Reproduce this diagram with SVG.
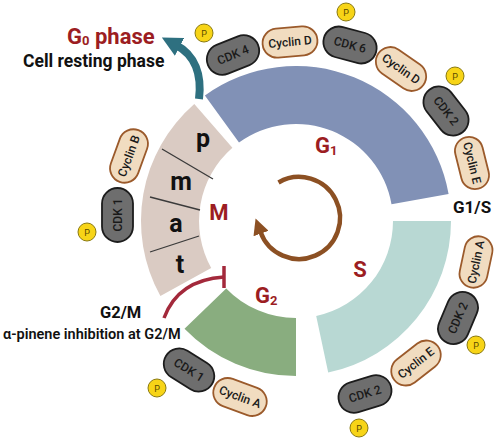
<svg xmlns="http://www.w3.org/2000/svg" width="500" height="441" viewBox="0 0 500 441">
<defs>
<style>
.lbl{font-family:Roboto,"Liberation Sans",sans-serif;font-weight:700}
.ph{fill:#9c1d22;font-size:22px}
.blk{fill:#111}
.cdk rect{fill:#6e6e6e;stroke:#1c1c1c;stroke-width:1.8}
.cyc rect{fill:#f1dcc0;stroke:#9b5a2b;stroke-width:1.8}
.pt{font-family:Roboto,"Liberation Sans",sans-serif;font-weight:500;font-size:12px;fill:#1a1a1a;text-anchor:middle}
.p circle{fill:#f7d417;stroke:#8a7a10;stroke-width:1}
.p text{font-family:Roboto,"Liberation Sans",sans-serif;font-size:9px;fill:#5a4a00;text-anchor:middle}
.mline{stroke:#3a3a3a;stroke-width:1.3}
.lt{font-family:Roboto,"Liberation Sans",sans-serif;font-weight:700;font-size:25px;fill:#111;text-anchor:middle}
</style>
<marker id="ahTeal" viewBox="0 0 10 10" refX="2" refY="5" markerWidth="20" markerHeight="20" markerUnits="userSpaceOnUse" orient="auto">
<path d="M0,0 L10,5 L0,10 z" fill="#2e7080"/>
</marker>
<marker id="ahBrown" viewBox="0 0 10 10" refX="1" refY="5" markerWidth="16" markerHeight="16" markerUnits="userSpaceOnUse" orient="auto">
<path d="M0,0 L10,5 L0,10 z" fill="#8c5023"/>
</marker>
</defs>
<rect width="500" height="441" fill="#ffffff"/>

<g id="G1">
<path d="M 204.9 95.6 A 155 155 0 0 1 448.6 194.1 L 391.5 204.2 A 97 97 0 0 0 239.0 142.5 Z" fill="#8191b6"/>
<text class="lbl ph" x="315" y="153">G<tspan font-size="13" dy="2">1</tspan></text>
</g>
<g id="S">
<path d="M 393 221 L 451 221 A 155 155 0 0 1 328.2 372.6 L 316.2 315.9 A 97 97 0 0 0 393 221 Z" fill="#b8d8d3"/>
<text class="lbl ph" x="360" y="277" text-anchor="middle">S</text>
</g>
<g id="G2">
<path d="M 296 318 L 296 376 A 155 155 0 0 1 184.5 328.7 L 226.2 288.4 A 97 97 0 0 0 296 318 Z" fill="#89ad7f"/>
<text class="lbl ph" x="255" y="303">G<tspan font-size="13" dy="2">2</tspan></text>
</g>
<g id="M">
<path d="M 211.2 268.0 L 160.4 296.1 A 155 155 0 0 1 194.3 104.0 L 232.4 147.8 A 97 97 0 0 0 211.2 268.0 Z" fill="#dacbc3"/>
<line class="mline" x1="162" y1="149" x2="213" y2="179"/>
<line class="mline" x1="150" y1="197" x2="200" y2="210"/>
<line class="mline" x1="150" y1="252" x2="199" y2="236"/>
<text class="lt" x="203" y="147">p</text>
<text class="lt" x="181" y="190">m</text>
<text class="lt" x="176" y="232">a</text>
<text class="lt" x="180" y="273">t</text>
<text class="lbl ph" x="219" y="220" text-anchor="middle">M</text>
</g>

<g id="connectors">
<path d="M 199 99 C 202 75 195 55 176 45" fill="none" stroke="#2e7080" stroke-width="8" marker-end="url(#ahTeal)"/>
<path d="M 278.5 182.5 A 41 41 0 1 1 260.5 232" fill="none" stroke="#8c5023" stroke-width="4.5" marker-end="url(#ahBrown)"/>
<path d="M 164 318 Q 178 280 224 277" fill="none" stroke="#a3293b" stroke-width="3.5"/>
<line x1="224" y1="266" x2="224" y2="288" stroke="#a3293b" stroke-width="3.5"/>
</g>

<g id="G0-label">
<text class="lbl ph" x="67" y="44">G<tspan font-size="13" dy="1">0</tspan><tspan dy="-1"> phase</tspan></text>
<text class="lbl blk" x="23" y="67" font-size="17.5">Cell resting phase</text>
</g>
<g id="G1S-label"><text class="lbl blk" x="453" y="213" font-size="17">G1/S</text></g>
<g id="G2M-label">
<text class="lbl blk" x="100" y="318" font-size="16.5">G2/M</text>
<text class="blk" x="3" y="339" font-family="Roboto,'Liberation Sans',sans-serif" font-weight="600" font-size="14.5">α-pinene inhibition at G2/M</text>
</g>

<g id="cdk4" class="cdk" transform="translate(233,55) rotate(-22)"><rect x="-27" y="-15.5" width="54" height="31" rx="15.5"/><text class="pt" y="4">CDK 4</text></g>
<g id="cyclinD1" class="cyc" transform="translate(290,42) rotate(-5)"><rect x="-27.5" y="-14.5" width="55" height="29" rx="14.5"/><text class="pt" y="4">Cyclin D</text></g>
<g id="cdk6" class="cdk" transform="translate(350,45) rotate(15)"><rect x="-27" y="-15.5" width="54" height="31" rx="15.5"/><text class="pt" y="4">CDK 6</text></g>
<g id="cyclinD2" class="cyc" transform="translate(401,69) rotate(35)"><rect x="-27.5" y="-14.5" width="55" height="29" rx="14.5"/><text class="pt" y="4">Cyclin D</text></g>
<g id="cdk2a" class="cdk" transform="translate(446,111) rotate(52)"><rect x="-27" y="-15.5" width="54" height="31" rx="15.5"/><text class="pt" y="4">CDK 2</text></g>
<g id="cyclinE1" class="cyc" transform="translate(472,163) rotate(76)"><rect x="-26.5" y="-14" width="53" height="28" rx="14"/><text class="pt" y="4">Cyclin E</text></g>
<g id="cyclinA1" class="cyc" transform="translate(476,262) rotate(-78)"><rect x="-26" y="-14" width="52" height="28" rx="14"/><text class="pt" y="4">Cyclin A</text></g>
<g id="cdk2b" class="cdk" transform="translate(458,318) rotate(-67)"><rect x="-27" y="-15.5" width="54" height="31" rx="15.5"/><text class="pt" y="4">CDK 2</text></g>
<g id="cyclinE2" class="cyc" transform="translate(416,363) rotate(-38)"><rect x="-27.5" y="-14.5" width="55" height="29" rx="14.5"/><text class="pt" y="4">Cyclin E</text></g>
<g id="cdk2c" class="cdk" transform="translate(365,394) rotate(-17)"><rect x="-27" y="-15.5" width="54" height="31" rx="15.5"/><text class="pt" y="4">CDK 2</text></g>
<g id="cdk1a" class="cdk" transform="translate(189,370) rotate(32)"><rect x="-27" y="-15.5" width="54" height="31" rx="15.5"/><text class="pt" y="4">CDK 1</text></g>
<g id="cyclinA2" class="cyc" transform="translate(240,397) rotate(20)"><rect x="-27.5" y="-14.5" width="55" height="29" rx="14.5"/><text class="pt" y="4">Cyclin A</text></g>
<g id="cyclinB" class="cyc" transform="translate(129,156) rotate(-70)"><rect x="-27.5" y="-14.5" width="55" height="29" rx="14.5"/><text class="pt" y="4">Cyclin B</text></g>
<g id="cdk1b" class="cdk" transform="translate(117.5,215) rotate(-90)"><rect x="-27" y="-15.5" width="54" height="31" rx="15.5"/><text class="pt" y="4">CDK 1</text></g>

<g id="p1" class="p"><circle cx="204" cy="33" r="9"/><text x="204" y="36.5">P</text></g>
<g id="p2" class="p"><circle cx="346" cy="12" r="9"/><text x="346" y="15.5">P</text></g>
<g id="p3" class="p"><circle cx="455" cy="76" r="9"/><text x="455" y="79.5">P</text></g>
<g id="p4" class="p"><circle cx="476" cy="345" r="9"/><text x="476" y="348.5">P</text></g>
<g id="p5" class="p"><circle cx="359" cy="428" r="9"/><text x="359" y="431.5">P</text></g>
<g id="p6" class="p"><circle cx="157" cy="388" r="9"/><text x="157" y="391.5">P</text></g>
<g id="p7" class="p"><circle cx="87" cy="232" r="9"/><text x="87" y="235.5">P</text></g>
</svg>
